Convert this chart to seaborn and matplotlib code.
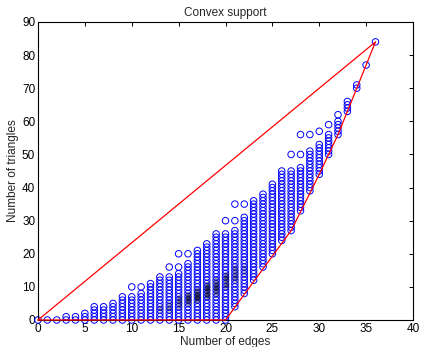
import numpy as np
import pandas as pd
import matplotlib
matplotlib.use("Agg")
import matplotlib.pyplot as plt
import seaborn as sns

# Per number of edges: contiguous range of triangle counts (low..high) plus isolated values above it
edges = list(range(0, 37))
tri_low = [0, 0, 0, 0, 0, 0, 0, 0, 0, 0,
           0, 0, 0, 0, 0, 0, 0, 0, 0, 0,
           0, 4, 8, 12, 16, 20, 24, 27, 33, 39,
           44, 50, 56, 63, 70, 77, 84]
tri_high = [0, 0, 0, 1, 1, 2, 4, 4, 5, 7,
            7, 8, 11, 13, 13, 14, 17, 21, 23, 26,
            26, 27, 31, 36, 38, 41, 45, 45, 46, 51,
            53, 56, 60, 66, 71, 77, 84]
tri_extra = {10: [10], 11: [10], 14: [16], 15: [16, 20], 16: [20],
             20: [30], 21: [30, 35], 22: [35], 27: [50], 28: [50, 56],
             29: [56], 30: [57], 31: [59], 32: [62]}

# heavily over-plotted (darker) markers: edges, triangles, darkness
dense_x = [13, 13, 14, 14, 14, 15, 15, 15, 15, 16, 16, 16, 16, 17, 17, 17, 17,
           18, 18, 18, 18, 18, 19, 19, 19, 19, 19, 20, 20, 20, 20, 20,
           21, 21, 21, 21, 21, 22, 22, 22]
dense_y = [3, 4, 3, 4, 5, 4, 5, 6, 7, 5, 6, 7, 8, 6, 7, 8, 9,
           7, 8, 9, 10, 11, 8, 9, 10, 11, 12, 10, 11, 12, 13, 14,
           12, 13, 14, 15, 16, 14, 15, 16]
dense_lv = [0.25, 0.25, 0.3, 0.35, 0.3, 0.35, 0.45, 0.45, 0.35, 0.5, 0.75, 0.75, 0.5,
            0.6, 0.9, 0.9, 0.6, 0.5, 0.8, 0.85, 0.8, 0.5, 0.45, 0.65, 0.7, 0.65, 0.45,
            0.4, 0.55, 0.6, 0.55, 0.4, 0.3, 0.4, 0.4, 0.4, 0.3, 0.2, 0.25, 0.2]

rows = []
for e, lo, hi in zip(edges, tri_low, tri_high):
    for t in range(lo, hi + 1):
        rows.append((e, t))
    for t in tri_extra.get(e, []):
        rows.append((e, t))
df = pd.DataFrame(rows, columns=["edges", "triangles"])
dense = pd.DataFrame({"edges": dense_x, "triangles": dense_y, "lv": dense_lv})

# convex hull (monotone chain) of the points
pts = sorted(set(rows))
def cross(o, a, b):
    return (a[0]-o[0])*(b[1]-o[1]) - (a[1]-o[1])*(b[0]-o[0])
lower, upper = [], []
for p in pts:
    while len(lower) >= 2 and cross(lower[-2], lower[-1], p) <= 0:
        lower.pop()
    lower.append(p)
for p in reversed(pts):
    while len(upper) >= 2 and cross(upper[-2], upper[-1], p) <= 0:
        upper.pop()
    upper.append(p)
hull = lower[:-1] + upper
hx = [p[0] for p in hull]
hy = [p[1] for p in hull]

sns.set_style("white")
plt.rcParams['font.family'] = ['Liberation Sans', 'DejaVu Sans']
fig = plt.figure(figsize=(4.23, 3.47), dpi=100)
ax = fig.add_axes([38/423, 1-320/347, 375/423, 298/347])

sns.scatterplot(data=df, x="edges", y="triangles", ax=ax, marker="o",
                s=22, facecolors="none", edgecolor="#0000ff", linewidth=0.7,
                clip_on=False, zorder=2)
for lv, g in dense.groupby("lv"):
    sns.scatterplot(data=g, x="edges", y="triangles", ax=ax, marker="o", s=16,
                    color="#101030", alpha=float(lv) * 0.8, linewidth=0, zorder=2.5,
                    legend=False)
ax.plot(hx, hy, color="#ff0000", lw=0.9, zorder=3, clip_on=False)

ax.set_xlim(0, 40)
ax.set_ylim(0, 90)
ax.set_xticks(range(0, 41, 5))
ax.set_yticks(range(0, 91, 10))
ax.tick_params(direction="in", length=3, width=0.7, labelsize=8.5, top=True, right=True,
               pad=2, colors="black")
for s in ax.spines.values():
    s.set_color("black")
    s.set_linewidth(0.8)
ax.set_xlabel("Number of edges", fontsize=8.5, labelpad=1)
ax.set_ylabel("Number of triangles", fontsize=8.5, labelpad=2)
ax.set_title("Convex support", fontsize=8.5, pad=4)

fig.savefig("out.png", dpi=100)
